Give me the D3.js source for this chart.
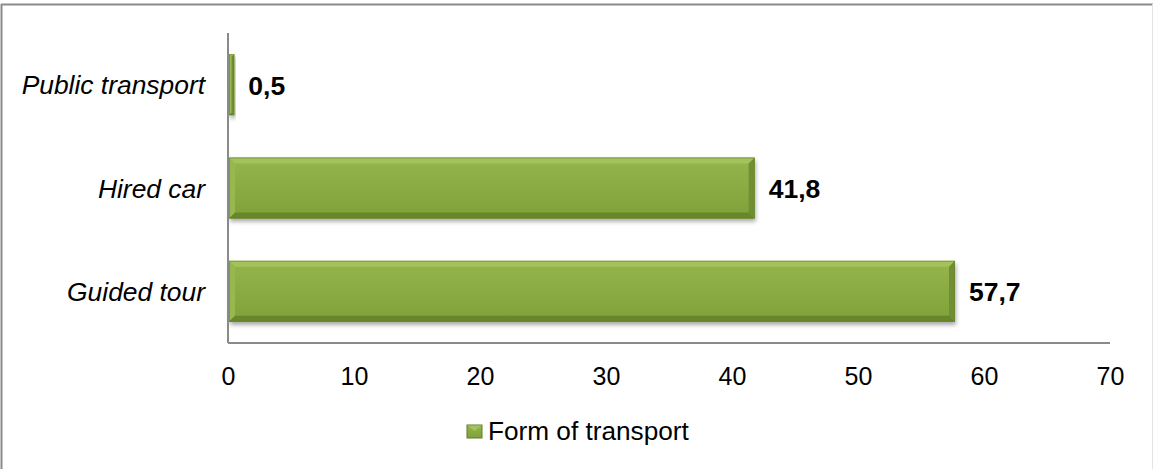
<!DOCTYPE html>
<html>
<head>
<meta charset="utf-8">
<script src="https://cdn.jsdelivr.net/npm/d3@7"></script>
<style>
  html, body { margin: 0; padding: 0; background: #fff; }
  svg { display: block; }
</style>
</head>
<body>
<svg id="chart" width="1153" height="469"></svg>
<script>
const categories = ["Public transport", "Hired car", "Guided tour"];
const values = [0.5, 41.8, 57.7];
const valueLabels = ["0,5", "41,8", "57,7"];
const xTicks = [0, 10, 20, 30, 40, 50, 60, 70];
const seriesName = "Form of transport";

(function () {
const svg = d3.select("#chart");
const pLeft = 228, pRight = 1110, pTop = 33, pBottom = 343;
const FONT = "Liberation Sans, Arial, sans-serif";

const defs = svg.append("defs");
const grad = defs.append("linearGradient").attr("id", "barGrad")
  .attr("x1", 0).attr("y1", 0).attr("x2", 0).attr("y2", 1);
grad.append("stop").attr("offset", "0%").attr("stop-color", "#95b54c");
grad.append("stop").attr("offset", "50%").attr("stop-color", "#8aab42");
grad.append("stop").attr("offset", "100%").attr("stop-color", "#80a03a");

const f = defs.append("filter").attr("id", "shadow")
  .attr("x", "-10%").attr("y", "-20%").attr("width", "130%").attr("height", "160%");
f.append("feDropShadow").attr("dx", 1).attr("dy", 3).attr("stdDeviation", 2)
  .attr("flood-color", "#000").attr("flood-opacity", 0.35);

// outer frame (top + left visible, right edge faint)
svg.append("line").attr("x1", 1).attr("x2", 1153).attr("y1", 4.5).attr("y2", 4.5)
  .attr("stroke", "#8a8a8a").attr("stroke-width", 2);
svg.append("line").attr("x1", 1.5).attr("x2", 1.5).attr("y1", 4).attr("y2", 469)
  .attr("stroke", "#8a8a8a").attr("stroke-width", 2);
svg.append("line").attr("x1", 1152.5).attr("x2", 1152.5).attr("y1", 4).attr("y2", 469)
  .attr("stroke", "#e4e4e4").attr("stroke-width", 1);

const x = d3.scaleLinear().domain([0, 70]).range([pLeft, pRight]);
const y = d3.scaleBand().domain(categories).range([pTop, pBottom])
  .paddingInner(0.41).paddingOuter(0.205);

// bars
const bars = svg.append("g").selectAll("g").data(categories).join("g");
bars.each(function(c, i) {
  const g = d3.select(this);
  const x0 = x(0) + 1, x1 = x(values[i]);
  const y0 = y(c), h = y.bandwidth(), y1 = y0 + h;
  const w = x1 - x0;
  const b = Math.min(6, w / 2);
  g.append("rect").attr("x", x0).attr("y", y0).attr("width", w).attr("height", h)
    .attr("fill", "url(#barGrad)").attr("filter", "url(#shadow)");
  g.append("polygon").attr("points", [[x0, y0], [x1, y0], [x1 - b, y0 + b], [x0 + b, y0 + b]].join(" "))
    .attr("fill", "#a3c25b");
  g.append("polygon").attr("points", [[x0, y0], [x0 + b, y0 + b], [x0 + b, y1 - b], [x0, y1]].join(" "))
    .attr("fill", "#97b84f");
  g.append("polygon").attr("points", [[x1, y0], [x1, y1], [x1 - b, y1 - b], [x1 - b, y0 + b]].join(" "))
    .attr("fill", "#718f32");
  g.append("polygon").attr("points", [[x0, y1], [x0 + b, y1 - b], [x1 - b, y1 - b], [x1, y1]].join(" "))
    .attr("fill", "#68872c");
  g.append("rect").attr("x", x0 + 0.5).attr("y", y0 + 0.5).attr("width", Math.max(0, w - 1)).attr("height", h - 1)
    .attr("fill", "none").attr("stroke", "#5f7e25").attr("stroke-width", 1).attr("stroke-opacity", 0.5);
});

// axes lines
svg.append("line").attr("x1", pLeft).attr("x2", pRight).attr("y1", pBottom).attr("y2", pBottom)
  .attr("stroke", "#8a8a8a").attr("stroke-width", 2);
svg.append("line").attr("x1", pLeft).attr("x2", pLeft).attr("y1", pTop).attr("y2", pBottom)
  .attr("stroke", "#8a8a8a").attr("stroke-width", 2);

// x axis tick labels
const xAxis = d3.axisBottom(x).tickValues(xTicks).tickSize(0).tickPadding(0).tickFormat(d3.format("d"));
const xg = svg.append("g").attr("transform", `translate(0,${pBottom})`).call(xAxis);
xg.select(".domain").remove();
xg.selectAll("text").attr("dy", null).attr("y", 42)
  .attr("font-family", FONT).attr("font-size", 25).attr("fill", "#000");

// y axis labels
const yAxis = d3.axisLeft(y).tickSize(0).tickPadding(0);
const yg = svg.append("g").attr("transform", `translate(${pLeft - 23},0)`).call(yAxis);
yg.select(".domain").remove();
yg.selectAll("text").attr("dy", "0.36em").attr("x", 0)
  .attr("font-family", FONT).attr("font-size", 26.4)
  .attr("font-style", "italic").attr("fill", "#000");

// value labels
svg.append("g").selectAll("text").data(categories).join("text")
  .attr("x", (c, i) => x(values[i]) + 14)
  .attr("y", c => y(c) + y.bandwidth() / 2)
  .attr("dy", "0.38em")
  .attr("font-family", FONT).attr("font-size", 26.5)
  .attr("font-weight", "bold").attr("fill", "#000")
  .text((c, i) => valueLabels[i]);

// legend
const lg = svg.append("g");
lg.append("rect").attr("x", 467).attr("y", 425).attr("width", 15).attr("height", 13)
  .attr("fill", "url(#barGrad)").attr("stroke", "#5f7e25").attr("stroke-width", 1);
lg.append("polygon").attr("points", "467.5,425.5 481.5,425.5 474.5,431").attr("fill", "#a3c25b");
lg.append("text").attr("x", 488).attr("y", 440)
  .attr("font-family", FONT).attr("font-size", 26.2).attr("fill", "#000")
  .text(seriesName);
})();
</script>
</body>
</html>
